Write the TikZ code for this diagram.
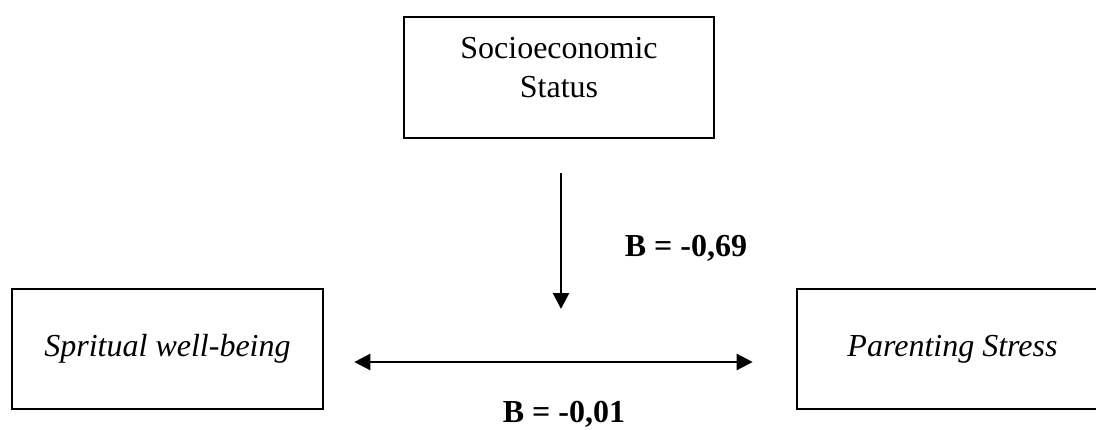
\documentclass[tikz,border=0pt]{standalone}
\usepackage{fontspec}
\setmainfont{Liberation Serif}
\usepackage{tikz}
\usetikzlibrary{arrows.meta, positioning}

\begin{document}
\begin{tikzpicture}[
  x=0.5pt, y=-0.5pt,
  font=\fontsize{16}{19.5}\selectfont,
  box/.style={rectangle, draw, line width=1.3pt, minimum width=155.5pt, minimum height=60pt, align=center},
  arrow/.style={-{Triangle[length=8pt, width=8pt]}, line width=1.2pt},
  dblarrow/.style={{Triangle[length=8pt, width=8pt]}-{Triangle[length=8pt, width=8pt]}, line width=1.2pt},
  coef/.style={font=\fontsize{16}{19.5}\selectfont\bfseries}
]
\useasboundingbox (0,0) rectangle (1096,429);

\node (ses) [box, minimum width=155pt, minimum height=60.5pt] at (559,77.5)
  {\raisebox{3.5pt}[\height][\depth]{\begin{tabular}{@{}c@{}}Socioeconomic\\Status\end{tabular}}};
\node (spir) [box] at (167.5,349) {\itshape Spritual well-being};
\node (stress) [box] at (952.5,349) {\itshape Parenting Stress};

\coordinate (mod) at (561,309);

\draw [arrow, shorten <=17pt] (ses.south -| mod) -- (mod);
\draw [dblarrow, shorten <=15pt, shorten >=21.5pt] ([yshift=-6.5pt]spir.east) -- ([yshift=-6.5pt]stress.west);

\node (b1) [coef] at (686,248) {B = -0,69};
\node (b2) [coef] at (564,414) {B = -0,01};

\end{tikzpicture}
\end{document}
